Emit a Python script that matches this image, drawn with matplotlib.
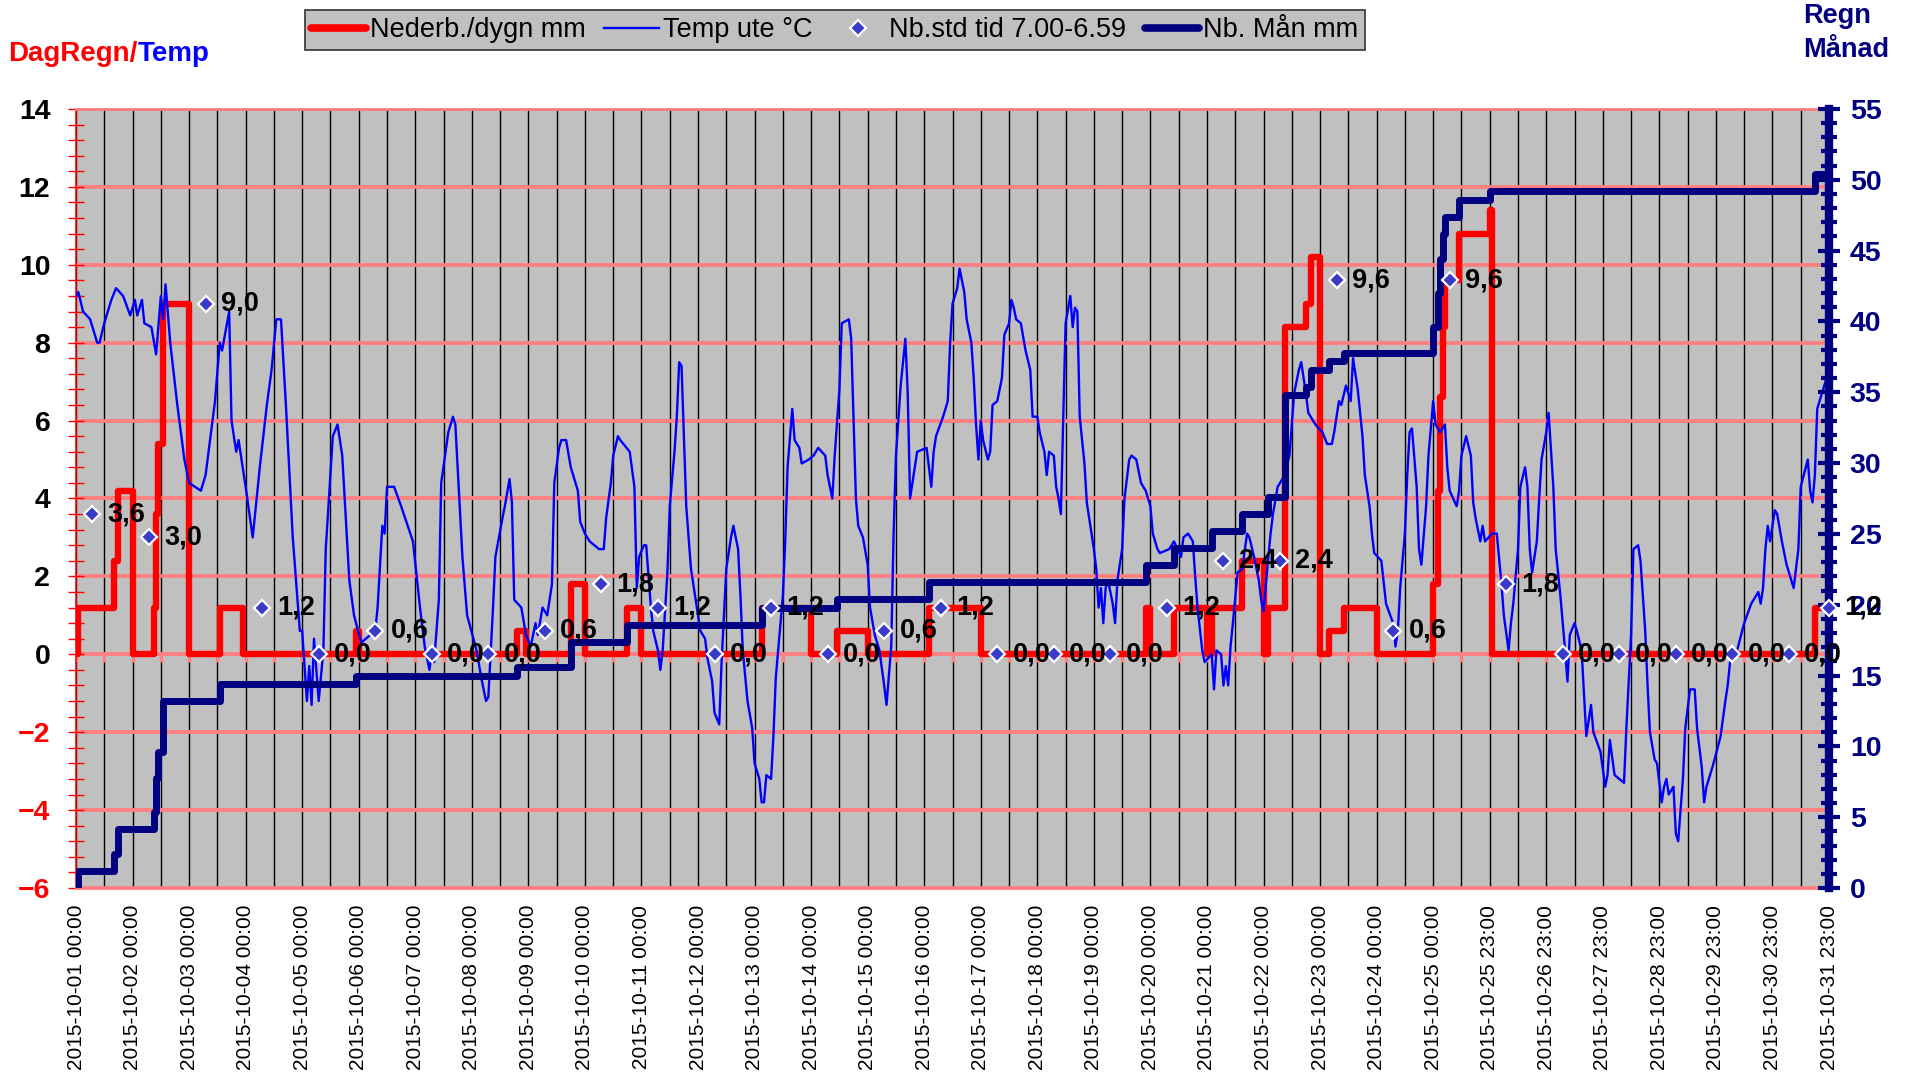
import matplotlib
matplotlib.use("Agg")
import matplotlib.pyplot as plt
from matplotlib.lines import Line2D
from matplotlib.ticker import FixedLocator, MultipleLocator

plt.rcParams['font.family'] = ['Liberation Sans', 'DejaVu Sans']

# x = hour index, 0 = 2015-10-01 00:00 ... 744 = 2015-10-31 23:00 (10-25 has 25 hours)
x_labels = ([f"2015-10-{d:02d} 00:00" for d in range(1, 26)]
            + [f"2015-10-{d:02d} 23:00" for d in range(25, 32)])
label_idx = list(range(0, 745, 24))

# Nederb./dygn mm - running total within each day, change points (left axis)
rain_day_h = [0, 1, 16, 18, 24, 33, 34, 35, 37, 48, 61, 71, 119, 120, 187,
              191, 210, 216, 234, 240, 291, 312, 323, 336, 362, 384, 454, 456,
              466, 480, 482, 495, 504, 506, 513, 522, 524, 528, 532, 538, 552,
              576, 578, 579, 580, 581, 587, 600, 601, 738, 744]
rain_day_mm = [0, 1.2, 2.4, 4.2, 0, 1.2, 3.6, 5.4, 9.0, 0, 1.2, 0, 0.6, 0, 0.6,
               0, 1.8, 0, 1.2, 0, 1.2, 0, 0.6, 0, 1.2, 0, 1.2, 0,
               1.2, 0, 1.2, 2.4, 0, 1.2, 8.4, 9.0, 10.2, 0, 0.6, 1.2, 0,
               1.8, 4.2, 6.6, 8.4, 9.6, 10.8, 11.4, 0, 1.2, 1.2]

# Nb. Mån mm - month total, change points (right axis)
rain_month_h = [0, 1, 16, 18, 33, 34, 35, 37, 61, 119, 187, 210, 234, 291, 323,
                362, 454, 466, 482, 495, 506, 513, 522, 524, 532, 538, 576, 578,
                579, 580, 581, 587, 600, 738, 744]
rain_month_mm = [0, 1.2, 2.4, 4.2, 5.4, 7.8, 9.6, 13.2, 14.4, 15.0, 15.6, 17.4,
                 18.6, 19.8, 20.4, 21.6, 22.8, 24.0, 25.2, 26.4, 27.6, 34.8,
                 35.4, 36.6, 37.2, 37.8, 39.6, 42.0, 44.4, 46.2, 47.4, 48.6,
                 49.2, 50.4, 50.4]

# Nb.std tid 7.00-6.59 (one value each morning + last hour)
std_h = list(range(7, 744, 24)) + [744]
std_mm = [3.6, 3.0, 9.0, 1.2, 0.0, 0.6, 0.0, 0.0, 0.6, 1.8, 1.2, 0.0, 1.2, 0.0,
          0.6, 1.2, 0.0, 0.0, 0.0, 1.2, 2.4, 2.4, 9.6, 0.6, 9.6, 1.8, 0.0, 0.0,
          0.0, 0.0, 0.0, 1.2]

# Temp ute °C
temp_h = [0, 1, 3, 6, 9, 10, 12, 15, 17, 20, 23, 25, 26, 28, 29, 32, 34, 36, 37,
          38, 40, 43, 46, 48, 53, 55, 59, 61, 62, 65, 66, 68, 69, 72, 75, 78, 81,
          83, 85, 87, 89, 92, 95, 96, 98, 99, 100, 101, 103, 105, 106, 109, 111,
          113, 116, 118, 121, 127, 128, 130, 131, 132, 135, 138, 143, 146, 148,
          150, 151, 152, 154, 155, 158, 160, 161, 164, 166, 170, 172, 174, 175,
          177, 178, 181, 182, 184, 185, 186, 189, 191, 193, 195, 196, 198, 200,
          202, 203, 205, 206, 208, 210, 213, 214, 216, 218, 222, 224, 225, 227,
          228, 230, 231, 235, 237, 238, 239, 241, 242, 244, 245, 247, 248, 249,
          251, 252, 254, 255, 256, 257, 259, 261, 263, 265, 267, 268, 270, 271,
          273, 274, 276, 278, 279, 281, 282, 283, 285, 287, 288, 290, 291, 292,
          293, 295, 296, 297, 300, 301, 302, 304, 305, 307, 308, 311, 313, 315,
          318, 319, 321, 322, 324, 325, 328, 329, 331, 332, 334, 336, 337, 339,
          341, 343, 344, 346, 347, 348, 350, 352, 353, 354, 356, 357, 361, 363,
          364, 365, 368, 370, 371, 372, 374, 375, 377, 378, 380, 381, 382, 383,
          384, 385, 387, 388, 389, 391, 393, 394, 396, 397, 398, 399, 401, 403,
          405, 406, 408, 409, 411, 412, 413, 415, 416, 417, 418, 419, 420, 422,
          423, 424, 425, 426, 428, 429, 430, 432, 433, 434, 435, 436, 437, 438,
          440, 441, 442, 444, 445, 447, 448, 450, 452, 454, 456, 457, 459, 460,
          464, 466, 469, 470, 472, 474, 475, 476, 478, 479, 482, 483, 484, 486,
          487, 488, 489, 490, 491, 493, 495, 497, 498, 500, 502, 503, 504, 505,
          507, 508, 510, 513, 515, 516, 517, 519, 520, 522, 523, 526, 529, 531,
          533, 534, 536, 537, 539, 541, 542, 544, 546, 547, 549, 550, 551, 554,
          556, 559, 560, 561, 562, 564, 565, 566, 567, 569, 570, 571, 573, 574,
          576, 577, 579, 581, 582, 583, 586, 587, 588, 590, 592, 593, 594, 596,
          597, 598, 601, 603, 605, 606, 608, 609, 610, 612, 613, 615, 616, 617,
          618, 620, 621, 622, 624, 625, 627, 628, 630, 632, 633, 634, 636, 637,
          639, 640, 641, 643, 644, 647, 649, 650, 651, 653, 657, 658, 660, 661,
          663, 664, 666, 667, 668, 670, 671, 673, 674, 675, 676, 678, 679, 680,
          682, 683, 685, 687, 688, 690, 691, 692, 695, 698, 700, 701, 702, 705,
          708, 711, 714, 715, 716, 717, 718, 719, 721, 722, 724, 726, 728, 729,
          731, 732, 735, 736, 737, 738, 739, 741, 743, 744]
temp_c = [9.2, 9.3, 8.8, 8.6, 8.0, 8.0, 8.5, 9.1, 9.4, 9.2, 8.7, 9.1, 8.7, 9.1,
          8.5, 8.4, 7.7, 9.2, 8.6, 9.5, 8.0, 6.4, 5.0, 4.4, 4.2, 4.6, 6.5, 8.0,
          7.8, 8.8, 6.0, 5.2, 5.5, 4.3, 3.0, 4.8, 6.4, 7.3, 8.6, 8.6, 6.5, 3.0,
          0.6, 0.6, -1.2, -0.3, -1.3, 0.4, -1.2, 0.1, 2.7, 5.6, 5.9, 5.1, 1.9,
          1.0, 0.3, 0.6, 1.2, 3.3, 3.1, 4.3, 4.3, 3.8, 2.9, 1.2, 0.2, -0.4, 0.0,
          -0.2, 1.4, 4.4, 5.7, 6.1, 5.9, 2.5, 1.0, 0.1, -0.6, -1.2, -1.1, 1.2,
          2.5, 3.5, 3.8, 4.5, 3.9, 1.4, 1.2, 0.5, 0.2, 0.8, 0.5, 1.2, 1.0, 1.8,
          4.4, 5.3, 5.5, 5.5, 4.8, 4.2, 3.4, 3.1, 2.9, 2.7, 2.7, 3.5, 4.4, 5.1,
          5.6, 5.5, 5.2, 4.3, 1.7, 2.5, 2.8, 2.8, 1.2, 0.6, 0.1, -0.4, 0.1, 2.1,
          3.8, 5.2, 6.1, 7.5, 7.4, 3.8, 2.2, 1.4, 0.6, 0.4, -0.1, -0.7, -1.5,
          -1.8, -0.2, 2.2, 3.0, 3.3, 2.7, 1.5, 0.1, -1.2, -1.9, -2.8, -3.2, -3.8,
          -3.8, -3.1, -3.2, -2.1, -0.6, 1.5, 2.9, 4.8, 6.3, 5.5, 5.3, 4.9, 5.0,
          5.1, 5.3, 5.1, 4.6, 4.0, 5.1, 6.8, 8.5, 8.6, 8.1, 4.0, 3.3, 3.0, 2.3,
          1.2, 0.5, 0.1, -0.8, -1.3, 0.2, 3.1, 5.1, 6.9, 8.1, 6.7, 4.0, 4.8, 5.2,
          5.3, 4.3, 5.2, 5.6, 6.1, 6.5, 8.0, 9.0, 9.4, 9.9, 9.3, 8.6, 8.0, 7.1,
          5.9, 5.0, 6.0, 5.5, 5.0, 5.2, 6.4, 6.5, 7.1, 8.2, 8.5, 9.1, 8.9, 8.6,
          8.5, 7.8, 7.3, 6.1, 6.1, 5.7, 5.2, 4.6, 5.2, 5.1, 4.3, 4.0, 3.6, 6.1,
          8.5, 9.2, 8.4, 8.9, 8.8, 6.1, 4.9, 3.9, 3.5, 2.7, 2.2, 1.2, 1.7, 0.8,
          1.7, 1.9, 1.3, 0.8, 1.9, 2.7, 4.0, 5.0, 5.1, 5.0, 4.4, 4.2, 3.8, 3.1,
          2.7, 2.6, 2.7, 2.9, 2.5, 3.0, 3.1, 2.9, 2.0, 1.2, 0.1, -0.2, 0.0, -0.9,
          0.1, 0.0, -0.8, -0.3, -0.8, 0.2, 0.8, 2.1, 2.2, 3.1, 3.0, 2.5, 1.9,
          1.4, 1.1, 1.8, 3.1, 3.6, 4.3, 4.6, 5.1, 5.9, 6.7, 7.3, 7.5, 6.7, 6.2,
          5.9, 5.7, 5.4, 5.4, 5.7, 6.5, 6.4, 6.9, 6.5, 7.6, 6.8, 5.6, 4.6, 3.8,
          3.1, 2.6, 2.4, 1.3, 0.8, 0.2, 0.6, 1.7, 3.1, 4.6, 5.7, 5.8, 4.3, 2.7,
          2.3, 3.8, 5.1, 6.5, 5.9, 5.7, 5.9, 4.8, 4.2, 3.8, 4.2, 5.1, 5.6, 5.1,
          3.9, 3.5, 2.9, 3.3, 2.9, 3.1, 3.1, 1.8, 1.0, 0.1, 0.8, 1.3, 2.7, 4.3,
          4.8, 4.3, 2.7, 2.1, 2.9, 4.0, 5.0, 5.7, 6.2, 4.3, 2.7, 1.5, 0.1, -0.7,
          0.5, 0.8, 0.6, 0.1, -1.0, -2.1, -1.3, -2.0, -2.5, -3.4, -3.1, -2.2,
          -3.1, -3.3, -1.9, 0.5, 2.7, 2.8, 2.4, 0.6, -0.8, -2.0, -2.7, -2.8,
          -3.8, -3.4, -3.2, -3.6, -3.4, -4.6, -4.8, -3.2, -1.9, -0.9, -0.9, -1.9,
          -2.9, -3.8, -3.4, -2.8, -2.1, -1.2, -0.8, -0.2, 0.1, 0.8, 1.3, 1.6,
          1.3, 1.7, 2.7, 3.3, 2.9, 3.7, 3.6, 2.9, 2.3, 1.9, 1.7, 2.7, 4.3, 5.0,
          4.2, 3.9, 4.6, 6.3, 6.7, 7.1, 7.0]

RED = '#FF0000'
BLUE = '#0000FF'
NAVY = '#000080'
PINK = '#FF8080'
DIAMOND = '#3a3ac8'

fig = plt.figure(figsize=(19.1, 10.8), dpi=100)
ax = fig.add_axes([76 / 1910, 192 / 1080, 1753 / 1910, 779 / 1080])
ax.set_facecolor('#C0C0C0')

ax.plot(rain_day_h, rain_day_mm, drawstyle='steps-post', color=RED, lw=4.6,
        zorder=3)
ax.plot(temp_h, temp_c, color=BLUE, lw=1.7, zorder=4)
# small tick marks on the category axis line at 0
ax.vlines(range(0, 745, 12), -0.2, 0, colors=PINK, lw=2.5, zorder=2)

ax2 = ax.twinx()
ax2.plot(rain_month_h, rain_month_mm, drawstyle='steps-post', color=NAVY,
         lw=5.0, zorder=3)
ax2.plot(std_h, std_mm, ls='none', marker='D', ms=8, mfc=DIAMOND, mec='white',
         mew=1.6, transform=ax.transData, zorder=4, clip_on=False)
for h, v in zip(std_h, std_mm):
    ax2.annotate(f"{v:.1f}".replace('.', ','), xy=(h, v), xycoords=ax.transData,
                 xytext=(11, 0), textcoords='offset points', ha='left',
                 va='center', fontsize=19.5, fontweight='bold', color='black',
                 annotation_clip=False, zorder=5)

ax.set_xlim(0, 744)
ax.set_ylim(-6, 14)
ax2.set_ylim(0, 55)

# x axis
ax.xaxis.set_major_locator(FixedLocator(label_idx))
ax.xaxis.set_minor_locator(FixedLocator(list(range(12, 744, 24))))
ax.set_xticklabels(x_labels, rotation=90, fontsize=15)
ax.tick_params(axis='x', which='both', length=0, pad=12)
ax.grid(True, axis='x', which='both', color='black', lw=1.0)

# left axis
ax.yaxis.set_major_locator(MultipleLocator(2))
ax.yaxis.set_minor_locator(MultipleLocator(0.4))
ax.grid(True, axis='y', which='major', color=PINK, lw=2.8)
ax.tick_params(axis='y', which='both', direction='inout', length=11, width=1,
               color=RED, labelsize=20.5, pad=13)
for t in ax.get_yticklabels():
    t.set_fontweight('bold')
    t.set_color(RED if t.get_position()[1] < 0 else 'black')
ax.spines['left'].set_color(RED)
ax.spines['left'].set_linewidth(1.2)
for s in ('top', 'bottom'):
    ax.spines[s].set_color(PINK)
    ax.spines[s].set_linewidth(2)
ax.spines['right'].set_visible(False)

# right axis
ax2.yaxis.set_major_locator(MultipleLocator(5))
ax2.yaxis.set_minor_locator(MultipleLocator(1))
ax2.tick_params(axis='y', which='major', direction='inout', length=16, width=3,
                color=NAVY, labelcolor=NAVY, labelsize=20.5, pad=7)
ax2.tick_params(axis='y', which='minor', direction='inout', length=11, width=3,
                color=NAVY)
for t in ax2.get_yticklabels():
    t.set_fontweight('bold')
for s in ('left', 'top', 'bottom'):
    ax2.spines[s].set_visible(False)
ax2.spines['right'].set_color(NAVY)
ax2.spines['right'].set_linewidth(6)

# titles
t1 = fig.text(8 / 1910, 1 - 54 / 1080, "DagRegn/", color=RED, fontsize=20,
              fontweight='bold', va='center', ha='left')
ax.annotate("Temp", xy=(1, 0), xycoords=t1, va='bottom', ha='left',
            color=BLUE, fontsize=20, fontweight='bold', annotation_clip=False)
fig.text(1803 / 1910, 1 - 3 / 1080, "Regn\nMånad", color=NAVY, fontsize=19.5,
         fontweight='bold', va='top', ha='left', linespacing=1.4)

# legend
handles = [
    Line2D([], [], color=RED, lw=5.5, solid_capstyle='round'),
    Line2D([], [], color=BLUE, lw=1.7),
    Line2D([], [], ls='none', marker='D', ms=8, mfc=DIAMOND, mec='white', mew=1.6),
    Line2D([], [], color=NAVY, lw=5.5, solid_capstyle='round'),
]
labels = ["Nederb./dygn mm", "Temp ute °C", "Nb.std tid 7.00-6.59", "Nb. Mån mm"]
leg = fig.legend(handles, labels, loc='center',
                 bbox_to_anchor=(835 / 1910, 1 - 30 / 1080), ncol=4,
                 fontsize=19.5, frameon=True, fancybox=False, facecolor='#C0C0C0',
                 edgecolor='#333333', framealpha=1, handlelength=2.0,
                 handletextpad=0.15, columnspacing=0.7, borderpad=0.25)
leg.get_frame().set_linewidth(1.2)

fig.savefig("out.png", dpi=100)
